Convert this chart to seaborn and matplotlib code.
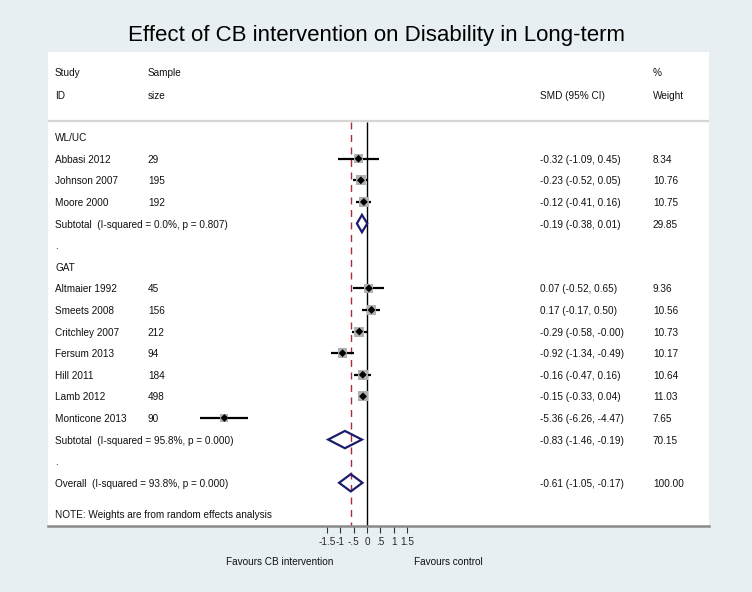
import numpy as np
import pandas as pd
import matplotlib.pyplot as plt
import seaborn as sns
from matplotlib.transforms import blended_transform_factory

# Datos
estudios = ["Abbasi 2012", "Johnson 2007", "Moore 2000",
            "Altmaier 1992", "Smeets 2008", "Critchley 2007", "Fersum 2013",
            "Hill 2011", "Lamb 2012", "Monticone 2013"]
grupo = ["WL/UC"] * 3 + ["GAT"] * 7
muestra = [29, 195, 192, 45, 156, 212, 94, 184, 498, 90]
smd = [-0.32, -0.23, -0.12, 0.07, 0.17, -0.29, -0.92, -0.16, -0.15, -5.36]
ic_inf = [-1.09, -0.52, -0.41, -0.52, -0.17, -0.58, -1.34, -0.47, -0.33, -6.26]
ic_sup = [0.45, 0.05, 0.16, 0.65, 0.50, -0.00, -0.49, 0.16, 0.04, -4.47]
peso = [8.34, 10.76, 10.75, 9.36, 10.56, 10.73, 10.17, 10.64, 11.03, 7.65]

grupos = ["WL/UC", "GAT"]
sub_smd = [-0.19, -0.83]
sub_inf = [-0.38, -1.46]
sub_sup = [0.01, -0.19]
sub_peso = [29.85, 70.15]
sub_i2 = [0.0, 95.8]
sub_p = [0.807, 0.000]

total_smd = -0.61
total_inf = -1.05
total_sup = -0.17
total_peso = 100.00
total_i2 = 93.8
total_p = 0.000

ticks = [-1.5, -1, -0.5, 0, 0.5, 1, 1.5]
tick_labels = ["-1.5", "-1", "-.5", "0", ".5", "1", "1.5"]

# Construir filas de la tabla
df = pd.DataFrame({"estudio": estudios, "grupo": grupo, "n": muestra,
                   "smd": smd, "lo": ic_inf, "hi": ic_sup, "peso": peso})
filas = []  # (fila, tipo, info)
fila = 0
df["fila"] = 0.0
sub_filas = []
for i, g in enumerate(grupos):
    filas.append((fila, "grupo", g))
    fila += 1
    for idx in df.index[df["grupo"] == g]:
        df.loc[idx, "fila"] = fila
        fila += 1
    sub_filas.append(fila)
    fila += 1
    filas.append((fila, "punto", None))
    fila += 1
fila_total = fila

sns.set_style("white")
plt.rcParams["font.family"] = ["Liberation Sans", "DejaVu Sans"]

fig = plt.figure(figsize=(7.52, 5.92), dpi=100)
fig.patch.set_facecolor("#e8eff2")
ax = fig.add_axes([48 / 752, 1 - 526 / 592, 661 / 752, 474 / 592])
ax.set_facecolor("white")

x0 = -(367 - 48) / 26.6
x1 = (709 - 367) / 26.6
ax.set_xlim(x0, x1)
y_top = -3.94
ax.set_ylim(18.0, y_top)

# lineas de referencia
ax.axhline(-0.75, color="#d6d6d6", lw=1.6)
ax.vlines(0, -0.72, 18.0, color="black", lw=1.0)
ax.vlines(total_smd, -0.72, 18.0, color="#b0283a", lw=1.0, linestyles=(0, (5, 4)))

# intervalos de confianza
ax.hlines(df["fila"], df["lo"], df["hi"], color="black", lw=1.6, zorder=3)
# cuadrados por peso
sns.scatterplot(data=df, x="smd", y="fila", size="peso", sizes=(34, 54),
                marker="s", color="#b0b0b0", edgecolor="none", legend=False,
                ax=ax, zorder=4)
sns.scatterplot(data=df, x="smd", y="fila", marker="D", color="black",
                s=16, edgecolor="none", legend=False, ax=ax, zorder=5)


def diamante(y, c, lo, hi, h=0.4):
    ax.fill([lo, c, hi, c, lo], [y, y - h, y, y + h, y], fill=False,
            edgecolor="#1c1c6e", lw=1.6, zorder=5)


for k in range(len(grupos)):
    diamante(sub_filas[k], sub_smd[k], sub_inf[k], sub_sup[k])
diamante(fila_total, total_smd, total_inf, total_sup)

# texto de la tabla
tr = blended_transform_factory(ax.transAxes, ax.transData)
cx = [0.0106, 0.151, 0.744, 0.915]
fs = 7.2
kw = dict(transform=tr, fontsize=fs, va="center_baseline", ha="left", color="#111111")
ax.text(cx[0], -3.0, "Study", **kw)
ax.text(cx[0], -1.95, "ID", **kw)
ax.text(cx[1], -3.0, "Sample", **kw)
ax.text(cx[1], -1.95, "size", **kw)
ax.text(cx[2], -1.95, "SMD (95% CI)", **kw)
ax.text(cx[3], -3.0, "%", **kw)
ax.text(cx[3], -1.95, "Weight", **kw)

for f, tipo, info in filas:
    ax.text(cx[0], f, info if tipo == "grupo" else ".", **kw)

for _, r in df.iterrows():
    ax.text(cx[0], r["fila"], r["estudio"], **kw)
    ax.text(cx[1], r["fila"], str(r["n"]), **kw)
    ax.text(cx[2], r["fila"], f"{r['smd']:.2f} ({r['lo']:.2f}, {r['hi']:.2f})", **kw)
    ax.text(cx[3], r["fila"], f"{r['peso']:.2f}", **kw)

for k in range(len(grupos)):
    ax.text(cx[0], sub_filas[k],
            f"Subtotal  (I-squared = {sub_i2[k]:.1f}%, p = {sub_p[k]:.3f})", **kw)
    ax.text(cx[2], sub_filas[k],
            f"{sub_smd[k]:.2f} ({sub_inf[k]:.2f}, {sub_sup[k]:.2f})", **kw)
    ax.text(cx[3], sub_filas[k], f"{sub_peso[k]:.2f}", **kw)

ax.text(cx[0], fila_total,
        f"Overall  (I-squared = {total_i2:.1f}%, p = {total_p:.3f})", **kw)
ax.text(cx[2], fila_total, f"{total_smd:.2f} ({total_inf:.2f}, {total_sup:.2f})", **kw)
ax.text(cx[3], fila_total, f"{total_peso:.2f}", **kw)
ax.text(cx[0], fila_total + 1.45, "NOTE: Weights are from random effects analysis", **kw)

# eje x
for s in ["top", "left", "right"]:
    ax.spines[s].set_visible(False)
ax.spines["bottom"].set_color("#8a8a8a")
ax.spines["bottom"].set_linewidth(1.8)
ax.set_xticks(ticks)
ax.set_xticklabels(tick_labels)
ax.set_yticks([])
ax.tick_params(axis="x", direction="out", length=5, width=0.8, color="#333333",
               labelsize=7.2, pad=3, bottom=True)
ax.set_xlabel("")
ax.set_ylabel("")

trx = blended_transform_factory(ax.transData, fig.transFigure)
ax.text((333 - 367) / 26.6, 1 - 561 / 592, "Favours CB intervention", transform=trx,
        fontsize=fs, ha="right", va="center_baseline", color="#111111")
ax.text((414 - 367) / 26.6, 1 - 561 / 592, "Favours control", transform=trx,
        fontsize=fs, ha="left", va="center_baseline", color="#111111")

fig.text(0.5, 1 - 36 / 592, "Effect of CB intervention on Disability in Long-term",
         ha="center", va="center", fontsize=16, color="black")

plt.savefig("out.png", dpi=100, facecolor=fig.get_facecolor())
